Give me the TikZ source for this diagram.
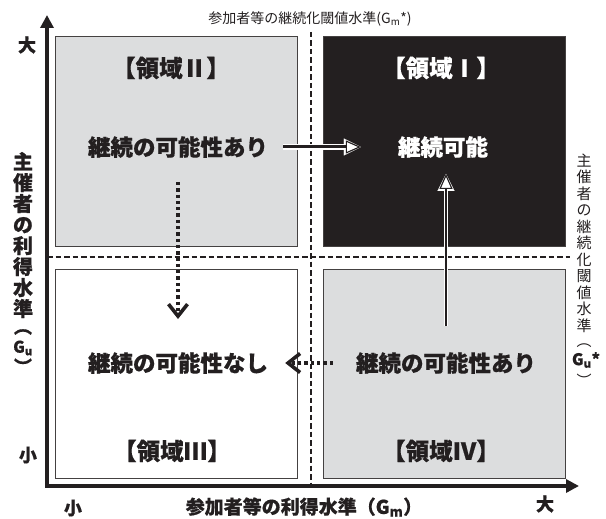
\documentclass[tikz,border=0pt]{standalone}
\usepackage{fontspec}
\newfontfamily\cjk{Noto Sans CJK JP}
\newfontfamily\cjkh{Noto Sans CJK JP}[BoldFeatures={FakeBold=0.6}]
\usetikzlibrary{arrows.meta}
\definecolor{qgray}{HTML}{DCDDDE}
\definecolor{qblack}{HTML}{231F20}
\begin{document}
\begin{tikzpicture}[x=1pt,y=-1pt,
  every node/.style={inner sep=0pt, text=qblack},
  quad/.style={draw=qblack!85, line width=0.9pt, anchor=north west, minimum width=242pt, minimum height=210pt},
  mainlbl/.style={font=\cjkh\bfseries\fontsize{22.5}{22.5}\selectfont},
  arealbl/.style={font=\cjkh\bfseries\fontsize{23.5}{23.5}\selectfont},
  axlbl/.style={font=\cjkh\bfseries\fontsize{18}{18}\selectfont},
  axisline/.style={line width=4.5pt, draw=qblack, line join=miter, {Triangle[length=13pt,width=13pt]}-{Triangle[length=13pt,width=13pt]}},
  threshold/.style={line width=1.4pt, draw=qblack, dash pattern=on 5.5pt off 3pt},
  solidarrow/.style={draw=qblack, line width=#1, -{Triangle[open, fill=white, length=15pt, width=13pt, line width=1.1pt]},
    preaction={draw=white, line width=#1+2.4pt, -{Triangle[length=17pt, width=17pt, line width=0.1pt]}}},
  dotarrow/.style={draw=qblack, line width=3.3pt, dash pattern=on 3.3pt off 3pt, -{Straight Barb[length=12pt, width=19pt, line width=3.6pt]}}
]
\useasboundingbox (0,0) rectangle (606,519);
% quadrants
\node[quad, fill=qgray] (q2) at (55,36) {};
\node[quad, fill=qblack] (q1) at (323,36) {};
\node[quad, fill=white, minimum height=209pt] (q3) at (55,269) {};
\node[quad, fill=qgray, minimum height=209pt] (q4) at (323,269) {};
% threshold lines
\coordinate (vt) at (311,32);
\coordinate (vb) at (311,486);
\coordinate (hl) at (47,257);
\coordinate (hr) at (570,257);
\draw[threshold] (vt) -- (vb);
\draw[threshold] (hl) -- (hr);
% axes
\coordinate (ytop) at (47,15);
\coordinate (orig) at (47,486);
\coordinate (xend) at (579,486);
\draw[axisline] (ytop) -- (orig) -- (xend);
% area labels
\node[arealbl] (t2) at (171,68) {【領域Ⅱ】};
\node[arealbl, text=white] (t1) at (441,68) {【領域Ⅰ】};
\node[arealbl] (t3) at (172,451) {【領域Ⅲ】};
\node[arealbl] (t4) at (441,451) {【領域Ⅳ】};
% main labels
\node[mainlbl] (a2) at (178,147) {継続の可能性あり};
\node[mainlbl, text=white] (a1) at (443,147) {継続可能};
\node[mainlbl] (a3) at (178,363) {継続の可能性なし};
\node[mainlbl] (a4) at (446,363) {継続の可能性あり};
% connectors
\draw[solidarrow=3pt, shorten <=15pt, shorten >=37pt] (a2.east) -- (a2.east -| a1.west);
\draw[solidarrow=2.5pt, shorten <=26pt, shorten >=16pt] (a4.north) -- (a4.north |- a1.south);
\draw[dotarrow, shorten <=24pt, shorten >=33pt] (a2.south) -- (a3.north);
\draw[dotarrow, shorten <=23pt, shorten >=17pt] (a4.west) -- (a3.east);
% axis labels
\node[axlbl] (ybig) at (27,45) {大};
\node[axlbl] (ysmall) at (28,455) {小};
\node[axlbl] (xsmall) at (73,508) {小};
\node[axlbl] (xbig) at (545,504) {大};
\node[font=\cjkh\bfseries\fontsize{19}{19}\selectfont] (xlab) at (304,507) {参加者等の利得水準（G\textsubscript{m}）};
\node[font=\cjk\fontsize{14}{14}\selectfont] (gm) at (310,19) {参加者等の継続化閾値水準(G\textsubscript{m}*)};
% left vertical label
\node[font=\cjkh\bfseries\fontsize{20}{21}\selectfont, align=center] (ylab) at (23,235) {主\\催\\者\\の\\利\\得\\水\\準};
\node[font=\cjkh\bfseries\fontsize{18}{18}\selectfont] (yp1) at (23,332) {︵};
\node[font=\cjkh\bfseries\fontsize{16}{16}\selectfont] (ygu) at (23,348) {G\textsubscript{u}};
\node[font=\cjkh\bfseries\fontsize{18}{18}\selectfont] (yp2) at (23,366) {︶};
% right vertical label
\node[font=\cjk\fontsize{15}{16.5}\selectfont, align=center] (rlab) at (584,243) {主\\催\\者\\の\\継\\続\\化\\閾\\値\\水\\準};
\node[font=\cjk\fontsize{15}{15}\selectfont] (rp1) at (584,346) {︵};
\node[font=\cjkh\bfseries\fontsize{16}{16}\selectfont] (rgu) at (586,360) {G\textsubscript{u}*};
\node[font=\cjk\fontsize{15}{15}\selectfont] (rp2) at (584,380) {︶};
\end{tikzpicture}
\end{document}
